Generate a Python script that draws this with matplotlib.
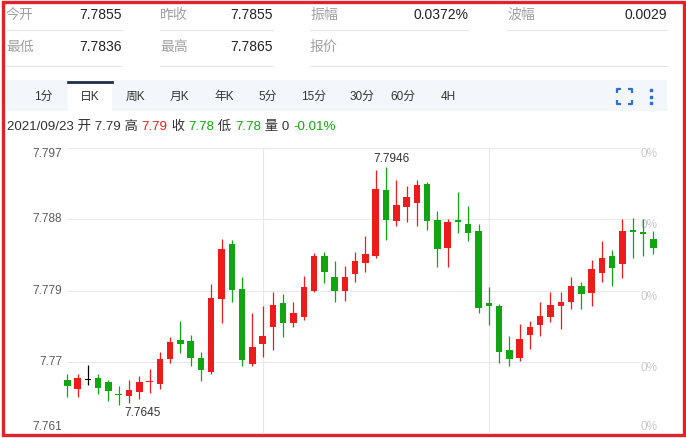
import matplotlib
matplotlib.use("Agg")
import matplotlib.pyplot as plt
from matplotlib.patches import Rectangle

plt.rcParams["font.family"] = ["Liberation Sans", "Noto Sans CJK SC", "DejaVu Sans"]

W, H = 686, 438

# daily candles, oldest first
opens = [7.7677, 7.7666, 7.7678, 7.7679, 7.7674, 7.7659, 7.7657, 7.7662, 7.7674, 7.7672,
         7.7704, 7.7727, 7.7726, 7.7705, 7.7687, 7.7779, 7.7849, 7.7792, 7.7697, 7.7722,
         7.7744, 7.7774, 7.7749, 7.7757, 7.7789, 7.7834, 7.7807, 7.7789, 7.7811, 7.7825,
         7.7833, 7.7917, 7.7878, 7.7896, 7.7900, 7.7925, 7.7879, 7.7844, 7.7879, 7.7874,
         7.7865, 7.7774, 7.7770, 7.7715, 7.7705, 7.7734, 7.7747, 7.7757, 7.7770, 7.7775,
         7.7796, 7.7787, 7.7812, 7.7834, 7.7823, 7.7866, 7.7864, 7.7855]
highs = [7.7685, 7.7685, 7.7696, 7.7685, 7.7677, 7.7669, 7.7677, 7.7682, 7.7691, 7.7712,
         7.7731, 7.7751, 7.7734, 7.7712, 7.7798, 7.7855, 7.7854, 7.7807, 7.7761, 7.7771,
         7.7788, 7.7786, 7.7776, 7.7808, 7.7837, 7.7838, 7.7827, 7.7821, 7.7839, 7.7859,
         7.7942, 7.7946, 7.7929, 7.7922, 7.7930, 7.7927, 7.7890, 7.7880, 7.7914, 7.7897,
         7.7874, 7.7794, 7.7773, 7.7733, 7.7748, 7.7752, 7.7776, 7.7788, 7.7788, 7.7807,
         7.7801, 7.7828, 7.7853, 7.7841, 7.7880, 7.7882, 7.7880, 7.7865]
lows = [7.7655, 7.7656, 7.7671, 7.7659, 7.7651, 7.7645, 7.7648, 7.7653, 7.7661, 7.7665,
        7.7699, 7.7711, 7.7694, 7.7676, 7.7685, 7.7749, 7.7776, 7.7694, 7.7695, 7.7706,
        7.7715, 7.7731, 7.7744, 7.7753, 7.7788, 7.7800, 7.7775, 7.7777, 7.7801, 7.7814,
        7.7831, 7.7854, 7.7871, 7.7877, 7.7872, 7.7866, 7.7820, 7.7820, 7.7862, 7.7853,
        7.7761, 7.7746, 7.7698, 7.7695, 7.7701, 7.7716, 7.7732, 7.7750, 7.7741, 7.7767,
        7.7767, 7.7771, 7.7801, 7.7796, 7.7806, 7.7831, 7.7834, 7.7836]
closes = [7.7669, 7.7679, 7.7678, 7.7667, 7.7663, 7.7658, 7.7664, 7.7675, 7.7676, 7.7704,
          7.7725, 7.7722, 7.7705, 7.7689, 7.7780, 7.7842, 7.7791, 7.7702, 7.7719, 7.7733,
          7.7772, 7.7749, 7.7761, 7.7794, 7.7833, 7.7813, 7.7789, 7.7807, 7.7827, 7.7836,
          7.7918, 7.7879, 7.7898, 7.7908, 7.7923, 7.7878, 7.7842, 7.7877, 7.7876, 7.7862,
          7.7768, 7.7771, 7.7712, 7.7704, 7.7729, 7.7744, 7.7758, 7.7772, 7.7776, 7.7796,
          7.7785, 7.7817, 7.7831, 7.7818, 7.7865, 7.7864, 7.7861, 7.7844]

y_ticks = [7.761, 7.77, 7.779, 7.788, 7.797]
y_tick_labels = ["7.761", "7.77", "7.779", "7.788", "7.797"]
pct_labels = ["0%", "0%", "0%", "0%", "0%"]
month_starts = [19, 41]

quote_row1 = [("今开", "7.7855"), ("昨收", "7.7855"), ("振幅", "0.0372%"), ("波幅", "0.0029")]
quote_row2 = [("最低", "7.7836"), ("最高", "7.7865"), ("报价", "")]

tabs = ["1分", "日K", "周K", "月K", "年K", "5分", "15分", "30分", "60分", "4H"]
selected_tab = "日K"

RED = "#ec1c1c"
GREEN = "#12a512"
DARK = "#333333"

info_parts = [("2021/09/23 开 7.79 高 ", DARK), ("7.79", RED), (" 收 ", DARK), ("7.78", GREEN),
              (" 低 ", DARK), ("7.78", GREEN), (" 量 0 ", DARK), ("-0.01%", GREEN)]


def main():
    fig = plt.figure(figsize=(W / 100, H / 100), dpi=100)
    fig.patch.set_facecolor("white")

    # page layer in pixel units
    page = fig.add_axes([0, 0, 1, 1])
    page.set_xlim(0, W)
    page.set_ylim(H, 0)
    page.axis("off")

    # quote table
    cells1 = [(6, 122), (160, 273), (310, 468), (507, 667)]
    cells2 = [(6, 122), (160, 273), (310, 667)]
    for row, cells, y, line_y in [(quote_row1, cells1, 15, 30), (quote_row2, cells2, 47, 66)]:
        for (label, value), (x0, x1) in zip(row, cells):
            page.text(x0, y, label, fontsize=10, color="#a0a0a0", va="center", ha="left")
            if value:
                page.text(x1, y, value, fontsize=10, color="#222222", va="center", ha="right")
            page.plot([x0, x1], [line_y, line_y], color="#e6e6e6", lw=0.8)

    # tab bar
    page.add_patch(Rectangle((7, 80), 660, 31, facecolor="#f3f6fa", edgecolor="none"))
    tab_x = [43, 90, 135, 179, 224, 268, 314, 362, 403, 448]
    for name, x in zip(tabs, tab_x):
        if name == selected_tab:
            page.add_patch(Rectangle((x - 22, 80), 44, 32, facecolor="white", edgecolor="none"))
            page.plot([x - 22, x + 22], [81.5, 81.5], color="#1d2f4d", lw=2)
        page.text(x, 97, name, fontsize=8.5, color=DARK, va="center", ha="center")

    # fullscreen and menu icons
    blue = "#2c6fd6"
    for cx, cy, dx, dy in [(617, 89, 1, 1), (632, 89, -1, 1), (617, 104, 1, -1), (632, 104, -1, -1)]:
        page.plot([cx + dx * 4, cx, cx], [cy, cy, cy + dy * 4], color=blue, lw=1.6,
                  solid_capstyle="butt")
    page.scatter([651, 651, 651], [90, 96.5, 103], s=4, marker="s", color=blue)

    # info line
    fig.canvas.draw()
    renderer = fig.canvas.get_renderer()
    x = 7
    for s, c in info_parts:
        t = page.text(x, 127, s, fontsize=9.6, color=c, va="center", ha="left")
        x += t.get_window_extent(renderer=renderer).width

    # candle chart
    ax = fig.add_axes([8 / W, (H - 433) / H, 660 / W, 285 / H])
    ax.patch.set_alpha(0)
    ax.set_xlim(-5.77, 58.43)
    ax.set_ylim(y_ticks[0], y_ticks[-1])
    ax.axis("off")

    ax.hlines(y_ticks, 0.0894, 0.9576, transform=ax.get_yaxis_transform(),
              color="#e8e8e8", lw=0.8, zorder=0)
    ax.vlines(month_starts, 0, 1, transform=ax.get_xaxis_transform(),
              color="#e8e8e8", lw=0.8, zorder=0)

    for i, (v, lab) in enumerate(zip(y_ticks, y_tick_labels)):
        va = "bottom" if i == 0 else ("top" if i == len(y_ticks) - 1 else "center")
        ax.text(0.0818, v, lab, transform=ax.get_yaxis_transform(), fontsize=8.5,
                color="#5a5a5a", ha="right", va=va)
    for i, (v, lab) in enumerate(zip(y_ticks, pct_labels)):
        va = "bottom" if i == 0 else "top"
        ax.text(0.959, v, lab, transform=ax.get_yaxis_transform(), fontsize=8.5,
                color="#c8c8c8", ha="left", va=va, zorder=0)

    for i in range(len(opens)):
        o, h, l, c = opens[i], highs[i], lows[i], closes[i]
        if c > o:
            col = RED
        elif c < o:
            col = GREEN
        else:
            col = "black"
        ax.vlines(i, l, h, color=col, lw=0.9, zorder=2)
        ax.bar(i, max(abs(c - o), 0.00014), bottom=min(o, c) - (0.00007 if c == o else 0),
               width=0.63, color=col, zorder=3)

    hi = highs.index(max(highs))
    lo = lows.index(min(lows))
    ax.annotate("%.4f" % highs[hi], (hi, highs[hi]), xytext=(5, 2), textcoords="offset pixels",
                ha="center", va="bottom", fontsize=8.5, color=DARK)
    ax.annotate("%.4f" % lows[lo], (lo, lows[lo]), xytext=(6, -2), textcoords="offset pixels",
                ha="left", va="top", fontsize=8.5, color=DARK)

    # outer red frame
    page.add_patch(Rectangle((2.5, 1.5), 681.5, 433, facecolor="none", edgecolor="#e0232b", lw=2.4))

    fig.savefig("out.png", dpi=100)


if __name__ == "__main__":
    main()
